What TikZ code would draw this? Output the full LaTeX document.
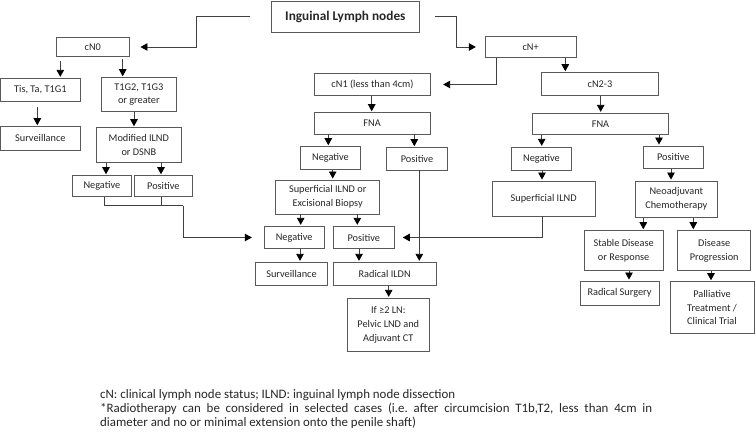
\documentclass[tikz,border=0pt]{standalone}
\usepackage{fontspec}
\setmainfont{Carlito}
\usetikzlibrary{arrows.meta}
\frenchspacing
\tikzset{
  box/.style={draw=black!65, line width=0.9pt, align=center, inner sep=1pt,
    font=\fontsize{10.3}{13.8}\selectfont, text=black!85},
  conn/.style={draw=black!75, line width=0.9pt},
  arr/.style={conn, -{Triangle[width=7.5pt,length=7pt,black]}, shorten >=1pt},
  foot/.style={anchor=base west, inner sep=0pt, font=\fontsize{12.9}{14.3}\selectfont, text=black!85},
}
\newcommand\mybox[6]{\node[box, minimum width={(#3-#2)*1pt}, minimum height={(#5-#4)*1pt}] (#1) at ({(#2+#3)/2},{(#4+#5)/2}) {#6};}
\newcommand\varr[4][]{\draw[arr,#1] (#2.south -| #4,0) -- (#3.north -| #4,0);}
\begin{document}
\begin{tikzpicture}[x=1pt,y=-1pt]
\useasboundingbox (0,0) rectangle (756,435);
% boxes
\mybox{title}{271.7}{419}{1}{32}{\fontsize{13.3}{15}\selectfont\bfseries Inguinal Lymph nodes}
\mybox{cN0}{56.7}{129}{37.3}{56.7}{cN0}
\mybox{cNp}{485.3}{576}{36.7}{57.3}{cN+}
\mybox{cN1}{314.3}{430.7}{73.3}{95.7}{cN1 (less than 4cm)}
\mybox{cN23}{541.7}{658.3}{72.7}{95.3}{cN2-3}
\mybox{fna1}{314.3}{430}{112.7}{134}{FNA}
\mybox{fna2}{532.3}{668.7}{113.3}{134.3}{FNA}
\mybox{tis}{0.7}{80}{78.3}{101.7}{Tis, Ta, T1G1}
\mybox{tg}{101}{176.7}{77.7}{111.3}{T1G2, T1G3\\or greater}
\mybox{surv1}{0.7}{80}{126.7}{150}{Surveillance}
\mybox{mod}{96}{181.7}{127.7}{162.3}{Modified ILND\\or DSNB}
\mybox{neg1}{72.7}{131}{175.7}{196.7}{Negative}
\mybox{pos1}{134}{192.7}{175.7}{196.7}{Positive}
\mybox{neg2}{300.7}{360.3}{146.7}{169.3}{Negative}
\mybox{pos2}{386.7}{447.3}{147.7}{170}{Positive}
\mybox{neg3}{511.3}{571.7}{147.3}{170}{Negative}
\mybox{pos3}{643.3}{703.3}{146}{168.3}{Positive}
\mybox{sup}{275.7}{379.7}{180}{214}{Superficial ILND or\\Excisional Biopsy}
\mybox{supI}{492.3}{595}{181}{216}{Superficial ILND}
\mybox{neo}{635.7}{717}{181}{217.3}{Neoadjuvant\\Chemotherapy}
\mybox{neg4}{264.3}{324}{226.3}{248.7}{Negative}
\mybox{pos4}{333.3}{394.3}{226.3}{248.7}{Positive}
\mybox{stab}{584}{663.3}{230.7}{270.7}{Stable Disease\\or Response}
\mybox{prog}{677.7}{750.7}{230.7}{270.7}{Disease\\Progression}
\mybox{surv2}{255.3}{327.7}{262.3}{285.3}{Surveillance}
\mybox{rad}{333.3}{436}{262.3}{285.3}{Radical ILDN}
\mybox{rsurg}{580}{659}{281}{305.3}{Radical Surgery}
\mybox{pall}{670}{754}{281.7}{333.3}{Palliative\\Treatment /\\Clinical Trial}
\mybox{ifln}{347.3}{429.3}{298.3}{351.7}{If ≥2 LN:\\Pelvic LND and\\Adjuvant CT}
% elbow connectors
\coordinate (k1) at (196,16.5);
\coordinate (k2) at (456.7,16.5);
\coordinate (m1) at (183.3,205.7);
\draw[arr, shorten <=21pt, shorten >=11pt] (title.west) -- (k1) |- (cN0.east);
\draw[arr, shorten <=16pt, shorten >=9pt] (title.east) -- (k2) |- (cNp.west);
\draw[arr, shorten >=12pt] (cNp.south -| 496,0) |- (cN1.east);
\draw[arr, shorten >=8pt] (supI.south -| 542.7,0) |- (pos4.east);
\draw[conn] (neg1.south -| 104.3,0) |- (m1);
\draw[conn] (pos1.south -| 161.7,0) |- (m1);
\draw[arr, shorten >=12pt] (m1) |- (neg4.west);
% vertical arrows
\varr[shorten <=4pt]{cN0}{tis}{60.3}
\varr[shorten <=2pt]{cN0}{tg}{122.7}
\varr[shorten <=5pt]{tis}{surv1}{37.3}
\varr{tg}{mod}{134}
\varr{mod}{neg1}{106}
\varr{mod}{pos1}{161}
\varr{cNp}{cN23}{565.3}
\varr{cN1}{fna1}{371.7}
\varr{fna1}{neg2}{328.3}
\varr{fna1}{pos2}{414.3}
\varr{neg2}{sup}{332.7}
\varr{sup}{neg4}{300.7}
\varr{sup}{pos4}{357.3}
\varr{neg4}{surv2}{300}
\varr{pos4}{rad}{359}
\varr{pos2}{rad}{419.3}
\varr{rad}{ifln}{388.7}
\varr{cN23}{fna2}{600.7}
\varr{fna2}{neg3}{541.7}
\varr{fna2}{pos3}{659}
\varr{neg3}{supI}{542}
\varr{pos3}{neo}{671}
\varr{neo}{stab}{643.3}
\varr{neo}{prog}{693.3}
\varr{stab}{rsurg}{629}
\varr{prog}{pall}{711}
% footnote
\node[foot] (fn1) at (100,398.4) {cN: clinical lymph node status; ILND: inguinal lymph node dissection};
\node[foot] (fn2) at (100,412.7) {\makebox[552pt][s]{*Radiotherapy can be considered in selected cases (i.e. after circumcision T1b,T2, less than 4cm in}};
\node[foot] (fn3) at (100,427) {diameter and no or minimal extension onto the penile shaft)};
\end{tikzpicture}
\end{document}
